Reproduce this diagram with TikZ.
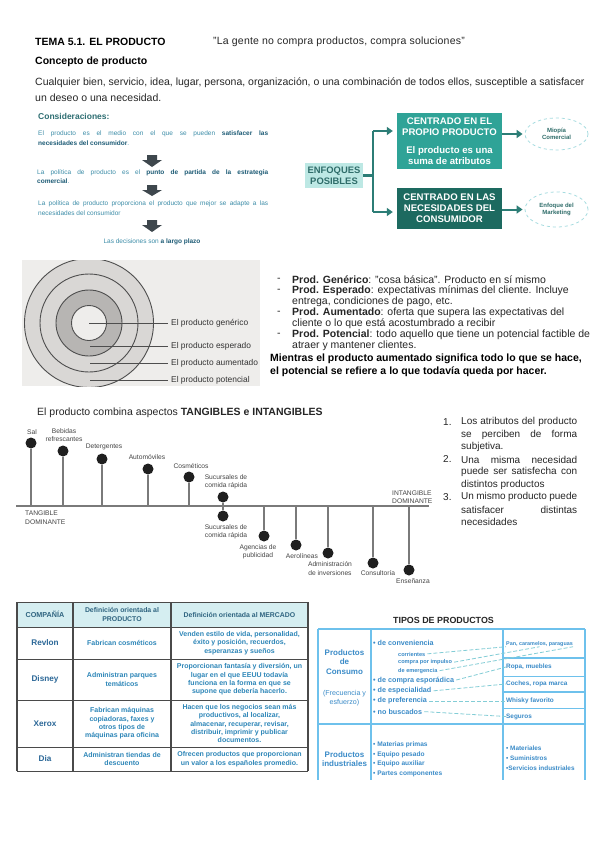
\documentclass[tikz,border=0pt]{standalone}
\usepackage{fontspec}
\setmainfont{Liberation Sans}
\usetikzlibrary{arrows.meta,shapes.geometric,calc}
\newcommand{\myfs}[2]{\fontsize{#1}{#2}\selectfont}
\newcommand{\jbox}[2]{\makebox[#1][s]{#2}}
\definecolor{txt}{HTML}{262626}
\definecolor{consT}{HTML}{2E6E72}
\definecolor{consN}{HTML}{3D8DA8}
\definecolor{consB}{HTML}{1E5C76}
\newcommand{\consbold}[1]{{\bfseries\color{consB}#1}}
\definecolor{arrG}{HTML}{3E474D}
\definecolor{enfF}{HTML}{BDE8E4}
\definecolor{enfT}{HTML}{2F6D6A}
\definecolor{boxA}{HTML}{2FA397}
\definecolor{boxB}{HTML}{1D6A60}
\definecolor{flowC}{HTML}{2C7D76}
\definecolor{ellD}{HTML}{A6DCE0}
\definecolor{circBg}{HTML}{EEEDEB}
\definecolor{circL}{HTML}{D9D7D5}
\definecolor{circM}{HTML}{B7B5B3}
\definecolor{circLn}{HTML}{4E4E4E}
\definecolor{chartLn}{HTML}{7A7A7A}
\definecolor{chartTx}{HTML}{454545}
\definecolor{tabHead}{HTML}{D5EEF1}
\definecolor{tabLn}{HTML}{4A4A4A}
\definecolor{tabHT}{HTML}{2F6480}
\definecolor{tabRow}{HTML}{2C6898}
\definecolor{tabTx}{HTML}{2D86B8}
\definecolor{tipLn}{HTML}{6EC1EC}
\definecolor{tipTx}{HTML}{3A8BC8}
\definecolor{tipDash}{HTML}{83CDD6}
\begin{document}
\begin{tikzpicture}[x=1pt,y=-1pt,
 lbl/.style={inner sep=0pt,anchor=west,text=txt,font=\myfs{10.5}{11}},
 lblb/.style={inner sep=0pt,anchor=west,text=black,font=\myfs{10.5}{11}\bfseries},
 numl/.style={inner sep=0pt,anchor=west,text=txt,font=\myfs{10}{11}},
 constx/.style={inner sep=0pt,anchor=west,text=consN,font=\myfs{6.5}{7.5}},
 enfbox/.style={fill=enfF,text=enfT,font=\myfs{9.4}{11}\bfseries,minimum width=58pt,minimum height=25pt,inner sep=0.5pt,align=center},
 tealbox/.style={text=white,font=\myfs{9.6}{11}\bfseries,minimum width=105pt,inner sep=1pt,align=center},
 ellnode/.style={ellipse,draw=ellD,dashed,line width=0.8pt,fill=white,text=enfT,font=\myfs{6}{7.5}\bfseries,minimum width=63pt,inner sep=0pt,align=center},
 flowln/.style={draw=flowC,line width=2.4pt},
 arrtip/.style={-{Triangle[length=6pt,width=8pt]}},
 circlbl/.style={inner sep=0pt,anchor=west,text=black!80,font=\myfs{8.4}{9}},
 circline/.style={draw=circLn,line width=1pt},
 chartdot/.style={circle,fill=black!88,minimum size=11pt,inner sep=0pt},
 stemln/.style={draw=chartLn,line width=1.1pt},
 chl/.style={inner sep=0pt,text=chartTx,font=\myfs{6.7}{8.5},align=center},
 tabhd/.style={inner sep=0pt,text=tabHT,font=\myfs{6.9}{8.4}\bfseries,align=center},
 tabrow/.style={inner sep=0pt,text=tabRow,font=\myfs{8.2}{9}\bfseries},
 tabtx/.style={inner sep=0pt,text=tabTx,font=\myfs{7}{8.4}\bfseries,align=center},
 tipln/.style={draw=tipLn,line width=1.4pt},
 tipL/.style={inner sep=0pt,text=tipTx,font=\myfs{8}{9.6}\bfseries,align=center},
 tipM/.style={inner sep=0pt,anchor=west,text=tipTx,font=\myfs{7.2}{8}\bfseries},
 tipS/.style={inner sep=0pt,anchor=west,text=tipTx,font=\myfs{5.6}{6}\bfseries},
 tipR/.style={inner sep=0pt,anchor=west,text=tipTx,font=\myfs{6.4}{7}\bfseries},
 tipdash/.style={draw=tipDash,line width=0.8pt,dash pattern=on 4pt off 2pt,shorten <=2pt},
]
\useasboundingbox (0,0) rectangle (599,848);
\fill[white] (0,0) rectangle (599,848);

% ---------- header ----------
\node[lblb] (tema) at (35,42) {TEMA 5.1. EL PRODUCTO};
\node[lbl] (quote) at (213,42) {\addfontfeature{LetterSpace=2}"La gente no compra productos, compra soluciones"};
\node[lblb] (conc) at (35,62) {Concepto de producto};
\node[lbl] (par1) at (35,83) {Cualquier bien, servicio, idea, lugar, persona, organización, o una combinación de todos ellos, susceptible a satisfacer};
\node[lbl] (par2) at (35,98) {un deseo o una necesidad.};

% ---------- consideraciones ----------
\node[inner sep=0pt,anchor=west,text=consT,font=\myfs{8.5}{10}\bfseries] (consid) at (38,116) {Consideraciones:};
\node[constx] (c1) at (38,134) {\jbox{230pt}{El producto es el medio con el que se pueden \consbold{satisfacer las}}};
\node[constx] (c2) at (38,143) {\consbold{necesidades del consumidor}.};
\fill[arrG] (147,155) -- (157,155) -- (157,160) -- (162,160) -- (152,167) -- (142,160) -- (147,160) -- cycle;
\node[constx] (c3) at (37,173) {\jbox{231pt}{La política de producto es el \consbold{punto de partida de la estrategia}}};
\node[constx] (c4) at (37,181.5) {\consbold{comercial}.};
\fill[arrG] (147,185) -- (157,185) -- (157,190) -- (162,190) -- (152,196) -- (142,190) -- (147,190) -- cycle;
\node[constx] (c5) at (38,204) {\jbox{230pt}{La política de producto proporciona el producto que mejor se adapte a las}};
\node[constx] (c6) at (38,213) {necesidades del consumidor};
\fill[arrG] (147,220) -- (157,220) -- (157,225) -- (162,225) -- (152,232) -- (142,225) -- (147,225) -- cycle;
\node[constx,anchor=center] (c7) at (152,242) {Las decisiones son \consbold{a largo plazo}};

% ---------- enfoques ----------
\node[enfbox] (enf) at (334,175.5) {ENFOQUES\\POSIBLES};
\node[tealbox,fill=boxA,minimum height=56pt] (box1) at (449.5,141) {CENTRADO EN EL\\PROPIO PRODUCTO\\[7pt]El producto es una\\suma de atributos};
\node[tealbox,fill=boxB,minimum height=41pt] (box2) at (449.5,208.5) {CENTRADO EN LAS\\NECESIDADES DEL\\CONSUMIDOR};
\node[ellnode,minimum height=32pt] (ell1) at (556.5,134) {Miopía\\Comercial};
\node[ellnode,minimum height=35pt] (ell2) at (556.5,209.5) {Enfoque del\\Marketing};
\draw[flowln] (enf.east) -- ++(10,0) coordinate (trunk);
\coordinate (t1) at (373,131);
\coordinate (t2) at (373,212);
\draw[flowln] (t1) -- (t2);
\draw[flowln,arrtip,shorten >=4pt] (t1) -- (t1 -| box1.west);
\draw[flowln,arrtip,shorten >=4pt] (t2) -- (t2 -| box2.west);
\draw[flowln,arrtip,line width=2pt,shorten >=2pt] (box1.east |- ell1.west) -- (ell1.west);
\draw[flowln,arrtip,line width=2pt,shorten >=2pt] (box2.east |- ell2.west) -- (ell2.west);

% ---------- circles ----------
\fill[circBg] (22,260) rectangle (260,386);
\begin{scope}
\clip (22,260) rectangle (260,386);
\filldraw[fill=circL,draw=circLn,line width=0.9pt] (89,323) circle[radius=64.5pt];
\draw[circLn,line width=0.9pt] (89,323) circle[radius=49pt];
\filldraw[fill=circM,draw=circLn,line width=0.9pt] (89,323) circle[radius=33pt];
\filldraw[fill=circBg,draw=circLn,line width=0.9pt] (89,323) circle[radius=17.5pt];
\end{scope}
\node[circlbl] (lgen) at (171,323) {El producto genérico};
\node[circlbl] (lesp) at (171,346) {El producto esperado};
\node[circlbl] (laum) at (171,363) {El producto aumentado};
\node[circlbl] (lpot) at (171,380) {El producto potencial};
\coordinate (sgen) at (89,323);
\coordinate (sesp) at (90,346);
\coordinate (saum) at (90,363);
\coordinate (spot) at (90,380);
\draw[circline,shorten >=3pt] (sgen) -- (lgen.west);
\draw[circline,shorten >=3pt] (sesp) -- (lesp.west);
\draw[circline,shorten >=3pt] (saum) -- (laum.west);
\draw[circline,shorten >=3pt] (spot) -- (lpot.west);

% ---------- right list ----------
\node[lbl] (dA) at (277,280) {-};
\node[lbl] (tA) at (292,280) {\textbf{Prod. Genérico}: "cosa básica". Producto en sí mismo};
\node[lbl] (dB) at (277,291) {-};
\node[lbl] (tB) at (292,291) {\textbf{Prod. Esperado}: expectativas mínimas del cliente. Incluye};
\node[lbl] (tB2) at (292,302) {entrega, condiciones de pago, etc.};
\node[lbl] (dC) at (277,313) {-};
\node[lbl] (tC) at (292,313) {\textbf{Prod. Aumentado}: oferta que supera las expectativas del};
\node[lbl] (tC2) at (292,324) {cliente o lo que está acostumbrado a recibir};
\node[lbl] (dD) at (277,335) {-};
\node[lbl] (tD) at (292,335) {\textbf{Prod. Potencial}: todo aquello que tiene un potencial factible de};
\node[lbl] (tD2) at (292,346) {atraer y mantener clientes.};
\node[lblb] (mA) at (270,359) {Mientras el producto aumentado significa todo lo que se hace,};
\node[lblb] (mB) at (270,372) {el potencial se refiere a lo que todavía queda por hacer.};

% ---------- tangible chart ----------
\node[lbl] (ctit) at (37,413) {El producto combina aspectos \textbf{TANGIBLES e INTANGIBLES}};
\coordinate (axL) at (16,506);
\coordinate (axR) at (429,506);
\draw[draw=chartLn,line width=1.4pt] (axL) -- (axR);
\foreach \n/\x/\y in {sal/31/443,beb/63/451,det/102/459,aut/148/469,cos/189/477,sucA/223/497,sucB/223/516,age/264/536,aer/296/545,adm/328/553,con/373/563,ens/409/570}{
  \node[chartdot] (\n) at (\x,\y) {};
  \draw[stemln] (\n) -- (\n |- axL);
}
\node[chl] (lsal) at (32,432) {Sal};
\node[chl] (lbeb) at (64,435) {Bebidas\\refrescantes};
\node[chl] (ldet) at (104,447) {Detergentes};
\node[chl] (laut) at (147,457) {Automóviles};
\node[chl] (lcos) at (191,466) {Cosméticos};
\node[chl] (lsucA) at (226,482) {Sucursales de\\comida rápida};
\node[chl] (lsucB) at (226,532) {Sucursales de\\comida rápida};
\node[chl] (lage) at (258,552) {Agencias de\\publicidad};
\node[chl] (laer) at (302,556) {Aerolíneas};
\node[chl] (ladm) at (330,568.5) {Administración\\de inversiones};
\node[chl] (lcon) at (378,573) {Consultoría};
\node[chl] (lens) at (413,581) {Enseñanza};
\node[chl,anchor=west,align=left] (ltan) at (25,517.5) {TANGIBLE\\DOMINANTE};
\node[chl,anchor=west,align=left] (lint) at (392,497) {INTANGIBLE\\DOMINANTE};

% ---------- numbered list ----------
\node[numl] (n1) at (443,422) {1.};
\node[numl] (n1a) at (461,422) {\jbox{116pt}{Los atributos del producto}};
\node[numl] (n1b) at (461,434.5) {\jbox{116pt}{se perciben de forma}};
\node[numl] (n1c) at (461,447) {subjetiva.};
\node[numl] (n2) at (443,459.5) {2.};
\node[numl] (n2a) at (461,459.5) {\jbox{116pt}{Una misma necesidad}};
\node[numl] (n2b) at (461,472) {\jbox{116pt}{puede ser satisfecha con}};
\node[numl] (n2c) at (461,484.5) {distintos productos};
\node[numl] (n3) at (443,497) {3.};
\node[numl] (n3a) at (461,497) {\jbox{116pt}{Un mismo producto puede}};
\node[numl] (n3b) at (461,509.5) {\jbox{116pt}{satisfacer distintas}};
\node[numl] (n3c) at (461,522) {necesidades};

% ---------- table ----------
\fill[tabHead] (17,602) rectangle (308,627);
\foreach \yy in {602,627,659,700,747,771}{\draw[tabLn,line width=0.8pt] (17,\yy) -- (308,\yy);}
\foreach \xx in {17,73,171,308}{\draw[tabLn,line width=1.3pt] (\xx,602) -- (\xx,771);}
\node[tabhd,font=\myfs{7.2}{8.4}\bfseries] (h1) at (45,614.5) {COMPAÑÍA};
\node[tabhd] (h2) at (122,614.5) {Definición orientada al\\PRODUCTO};
\node[tabhd] (h3) at (239.5,614.5) {Definición orientada al MERCADO};
\node[tabrow] (r1) at (45,643) {Revlon};
\node[tabtx] (r1b) at (122,643) {Fabrican cosméticos};
\node[tabtx] (r1c) at (239.5,643) {Venden estilo de vida, personalidad,\\éxito y posición, recuerdos,\\esperanzas y sueños};
\node[tabrow] (r2) at (45,679.5) {Disney};
\node[tabtx] (r2b) at (122,679.5) {Administran parques\\temáticos};
\node[tabtx] (r2c) at (239.5,679.5) {Proporcionan fantasía y diversión, un\\lugar en el que EEUU todavía\\funciona en la forma en que se\\supone que debería hacerlo.};
\node[tabrow] (r3) at (45,723.5) {Xerox};
\node[tabtx] (r3b) at (122,723.5) {Fabrican máquinas\\copiadoras, faxes y\\otros tipos de\\máquinas para oficina};
\node[tabtx] (r3c) at (239.5,723.5) {Hacen que los negocios sean más\\productivos, al localizar,\\almacenar, recuperar, revisar,\\distribuir, imprimir y publicar\\documentos.};
\node[tabrow] (r4) at (45,759) {Dia};
\node[tabtx] (r4b) at (122,759) {Administran tiendas de\\descuento};
\node[tabtx] (r4c) at (239.5,759) {Ofrecen productos que proporcionan\\un valor a los españoles promedio.};

% ---------- tipos de productos ----------
\node[inner sep=0pt,font=\myfs{8.9}{10}\bfseries,text=black!85] (tipos) at (443.5,620) {TIPOS DE PRODUCTOS};
\draw[tipln] (318,629) -- (585,629);
\foreach \xx in {318,371,503,585}{\draw[tipln] (\xx,629) -- (\xx,780);}
\draw[tipln] (318,724) -- (585,724);
\draw[tipln] (503,658) -- (585,658);
\draw[tipln] (503,692) -- (585,692);
\draw[tipln,line width=0.8pt] (503,676) -- (585,676);
\draw[tipln,line width=0.8pt] (503,708) -- (585,708);
\node[tipL] (pcons) at (344.5,662) {Productos\\de\\Consumo};
\node[tipL,font=\myfs{7.1}{9}] (frec) at (344.5,698.5) {(Frecuencia y\\esfuerzo)};
\node[tipL] (pind) at (344.5,759) {Productos\\industriales};
\node[tipM] (conv) at (373,643) {• de conveniencia};
\node[tipS] (corr) at (398,654) {corrientes};
\node[tipS] (imp) at (398,662.5) {compra por impulso};
\node[tipS] (emer) at (398,671) {de emergencia};
\node[tipM] (espo) at (373,680.5) {• de compra esporádica};
\node[tipM] (espe) at (373,691) {• de especialidad};
\node[tipM] (pref) at (373,701) {• de preferencia};
\node[tipM] (nob) at (373,711.5) {• no buscados};
\node[tipR,font=\myfs{6.6}{7}\bfseries] (mp) at (373,745) {• Materias primas};
\node[tipR,font=\myfs{6.6}{7}\bfseries] (eqp) at (373,754.5) {• Equipo pesado};
\node[tipR,font=\myfs{6.6}{7}\bfseries] (eqa) at (373,764) {• Equipo auxiliar};
\node[tipR,font=\myfs{6.6}{7}\bfseries] (pc) at (373,773.5) {• Partes componentes};
\node[tipR,font=\myfs{5.4}{6}\bfseries] (pan) at (506,644) {Pan, caramelos, paraguas};
\node[tipR] (ropa) at (506,667) {Ropa, muebles};
\node[tipR] (coch) at (506,684) {Coches, ropa marca};
\node[tipR] (whis) at (506,701) {Whisky favorito};
\node[tipR] (seg) at (506,716.5) {Seguros};
\node[tipR] (mat) at (506,748) {• Materiales};
\node[tipR] (sum) at (506,758) {• Suministros};
\node[tipR] (serv) at (506,768) {•Servicios industriales};
\draw[tipdash] (corr.east) -- (pan.south west);
\draw[tipdash] (imp.east) -- (pan.south);
\draw[tipdash] (emer.east) -- (pan.south east);
\draw[tipdash] (espo.east) -- (ropa.west);
\draw[tipdash] (espe.east) -- (coch.west);
\draw[tipdash] (pref.east) -- (whis.west);
\draw[tipdash] (nob.east) -- (seg.west);
\end{tikzpicture}
\end{document}
